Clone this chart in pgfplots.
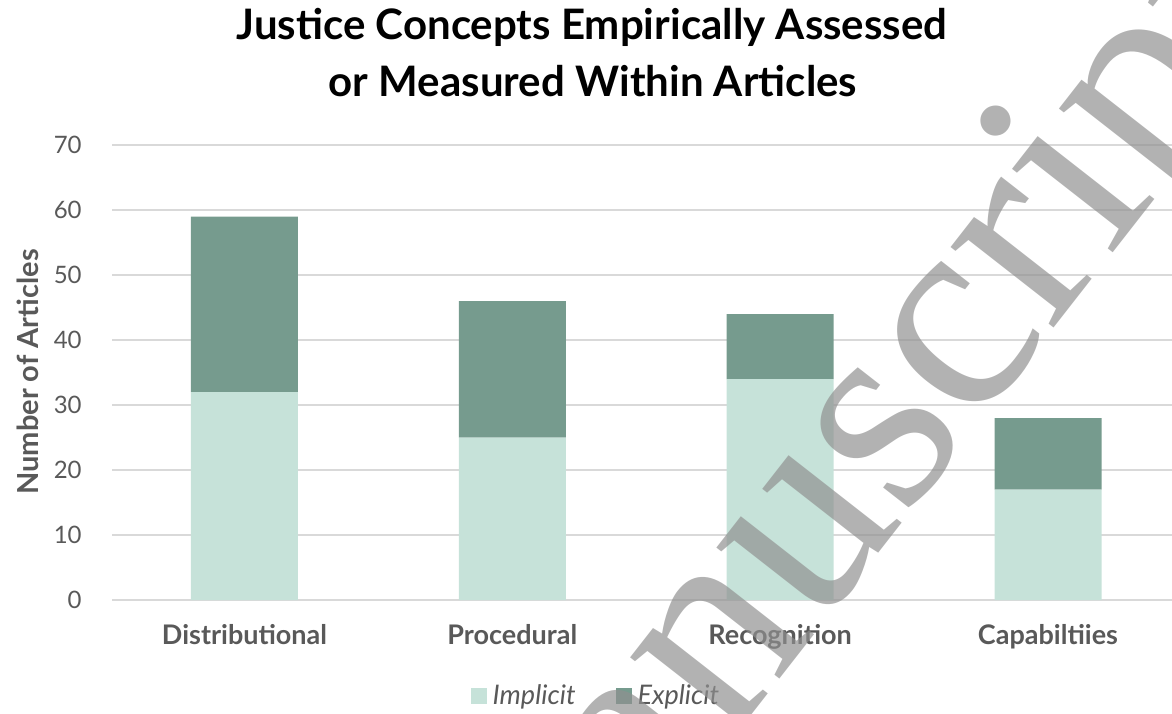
\documentclass[border=0pt]{standalone}
\usepackage{fontspec}
\setmainfont{Lato}
\newfontfamily\wmfont{Liberation Serif}
\usepackage{pgfplots}
\pgfplotsset{compat=1.18}
\definecolor{impl}{HTML}{C6E2D9}
\definecolor{expl}{HTML}{769B8E}
\definecolor{txt}{HTML}{595959}
\definecolor{gridc}{HTML}{D9D9D9}
\definecolor{wm}{HTML}{909090}
\begin{document}
\begin{tikzpicture}[x=0.5pt,y=0.5pt]
\useasboundingbox (0,0) rectangle (1172,713);
\begin{axis}[
  at={(56pt,56.5pt)}, anchor=south west,
  scale only axis, width=530pt, height=227.5pt,
  ybar stacked, bar width=53.5pt,
  xmin=-0.4947, xmax=3.463, ymin=0, ymax=70,
  xtick={0,1,2,3}, xticklabels={Distributional,Procedural,Recognition,Capabiltiies},
  ytick={0,10,...,70},
  ymajorgrids, grid style={gridc, line width=1pt},
  axis line style={draw=none}, major tick length=0pt,
  xticklabel style={font=\bfseries\fontsize{13.5}{16}\selectfont, text=txt, inner sep=0pt, anchor=north, yshift=-12pt},
  yticklabel style={font=\fontsize{12}{14}\selectfont, text=txt, inner sep=0pt, anchor=east, xshift=-15pt},
  /pgf/number format/assume math mode=true,
  legend style={at={(0.4575,-0.211)}, anchor=center, draw=none, fill=none, legend columns=2, font=\itshape\fontsize{13.5}{16}\selectfont, text=txt, /tikz/every even column/.append style={column sep=18pt}, /tikz/every odd column/.append style={column sep=1pt}},
  legend image code/.code={\fill[#1] (0pt,-4pt) rectangle (8pt,4pt);},
  clip=false,
]
\addplot[fill=impl, draw=none] coordinates {(0,32) (1,25) (2,34) (3,17)};
\addplot[fill=expl, draw=none] coordinates {(0,27) (1,21) (2,10) (3,11)};
\legend{Implicit, Explicit}
\end{axis}
\node[anchor=base, font=\bfseries\fontsize{21}{25}\selectfont] at (592,673) {Justice Concepts Empirically Assessed};
\node[anchor=base, font=\bfseries\fontsize{21}{25}\selectfont] at (593,616) {or Measured Within Articles};
\node[rotate=90, anchor=center, text=txt, font=\bfseries\fontsize{14.5}{17}\selectfont] at (28,341) {Number of Articles};
\node[rotate=52, anchor=base west, inner sep=0pt, text=wm, opacity=0.69, font=\wmfont\fontsize{142.4}{142.4}\selectfont] at (515,-305) {manuscript};
\end{tikzpicture}
\end{document}
